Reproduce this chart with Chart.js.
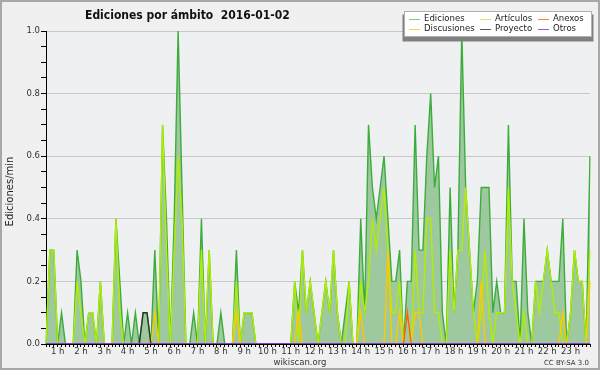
<!DOCTYPE html>
<html>
<head>
<meta charset="utf-8">
<script src="https://cdn.jsdelivr.net/npm/chart.js@4.4.0/dist/chart.umd.min.js"></script>
<style>
  html, body { margin: 0; padding: 0; background: #f0f0f0; }
  canvas { display: block; }
</style>
</head>
<body>
<canvas id="chart" width="600" height="370"></canvas>
<script>
// ── Data: 10-minute slots, 00:30 → 23:50 ─────────────────────────────────────
const times = [];
for (let m = 30; m <= 23 * 60 + 50; m += 10) {
  times.push(String(Math.floor(m / 60)).padStart(2, '0') + ':' + String(m % 60).padStart(2, '0'));
}

const ediciones = [
  0, .3, .3, 0, .1, 0, 0, 0, .3, .2, 0, .1, .1, 0, .2, 0, 0, 0, .4, .2,
  0, .1, 0, .1, 0, .1, .1, 0, .3, 0, .7, .4, 0, .4, 1, .5, 0, 0, .1, 0,
  .4, 0, .3, 0, 0, .1, 0, 0, 0, .3, 0, .1, .1, .1, 0, 0, 0, 0, 0, 0,
  0, 0, 0, 0, .2, .1, .3, .1, .2, .1, 0, .1, .2, .1, .3, .1, 0, .1, .2, 0,
  0, .4, .1, .7, .5, .4, .5, .6, .4, .2, .2, .3, 0, .2, .2, .7, .3, .3, .6, .8,
  .5, .6, .1, 0, .5, .1, .3, 1, .5, .3, .1, .2, .5, .5, .5, .1, .2, .1, .1, .7,
  .2, .2, 0, .4, .1, 0, .2, .2, .2, .3, .2, .2, .2, .4, 0, .1, .3, .2, .2, 0,
  .6
];
const articulos = [
  0, .3, .3, 0, 0, 0, 0, 0, .2, .1, 0, .1, .1, 0, .2, 0, 0, 0, .4, .1,
  0, 0, 0, 0, 0, 0, 0, 0, 0, 0, .7, .3, 0, .3, .6, .4, 0, 0, 0, 0,
  .3, 0, .3, 0, 0, 0, 0, 0, 0, .2, 0, .1, .1, .1, 0, 0, 0, 0, 0, 0,
  0, 0, 0, 0, .2, 0, .3, .1, .2, .1, 0, .1, .2, .1, .3, .1, 0, 0, .2, 0,
  0, .2, .1, .2, .4, .3, .4, .5, .3, .1, .1, .2, 0, .1, 0, .3, .1, .1, .4, .4,
  .1, .1, 0, 0, .3, .1, .3, .3, .5, .3, .1, 0, .1, .3, .1, 0, .1, .1, .1, .5,
  .2, .1, 0, .1, 0, 0, .2, .1, .2, .3, .2, .1, .1, 0, 0, .1, .3, .2, .2, 0,
  .3
];
const discusiones = [
  0, 0, 0, 0, 0, 0, 0, 0, 0, 0, 0, 0, 0, 0, 0, 0, 0, 0, 0, 0,
  0, 0, 0, 0, 0, 0, 0, 0, .1, 0, 0, 0, 0, 0, 0, 0, 0, 0, 0, 0,
  0, 0, 0, 0, 0, 0, 0, 0, 0, .1, 0, 0, 0, 0, 0, 0, 0, 0, 0, 0,
  0, 0, 0, 0, 0, .1, 0, 0, 0, 0, 0, 0, 0, 0, 0, 0, 0, 0, 0, 0,
  0, .1, 0, 0, 0, 0, 0, 0, .3, 0, 0, .1, 0, 0, 0, .1, .1, 0, 0, 0,
  0, 0, 0, 0, 0, 0, 0, 0, 0, 0, 0, 0, .2, 0, 0, 0, 0, 0, 0, 0,
  0, 0, 0, 0, 0, 0, 0, 0, 0, 0, 0, 0, 0, .1, 0, 0, 0, 0, 0, 0,
  .2
];
const anexos = [
  0, 0, 0, 0, 0, 0, 0, 0, 0, 0, 0, 0, 0, 0, 0, 0, 0, 0, 0, 0,
  0, 0, 0, 0, 0, 0, 0, 0, 0, 0, 0, 0, 0, 0, 0, 0, 0, 0, 0, 0,
  0, 0, 0, 0, 0, 0, 0, 0, 0, 0, 0, 0, 0, 0, 0, 0, 0, 0, 0, 0,
  0, 0, 0, 0, 0, 0, 0, 0, 0, 0, 0, 0, 0, 0, 0, 0, 0, 0, 0, 0,
  0, 0, 0, 0, 0, 0, 0, 0, 0, 0, 0, 0, 0, .1, 0, 0, 0, 0, 0, 0,
  0, 0, 0, 0, 0, 0, 0, 0, 0, 0, 0, 0, 0, 0, 0, 0, 0, 0, 0, 0,
  0, 0, 0, 0, 0, 0, 0, 0, 0, 0, 0, 0, 0, 0, 0, 0, 0, 0, 0, 0,
  0
];
const proyecto = [
  0, 0, 0, 0, 0, 0, 0, 0, 0, 0, 0, 0, 0, 0, 0, 0, 0, 0, 0, 0,
  0, 0, 0, 0, 0, .1, .1, 0, 0, 0, 0, 0, 0, 0, 0, 0, 0, 0, 0, 0,
  0, 0, 0, 0, 0, 0, 0, 0, 0, 0, 0, 0, 0, 0, 0, 0, 0, 0, 0, 0,
  0, 0, 0, 0, 0, 0, 0, 0, 0, 0, 0, 0, 0, 0, 0, 0, 0, 0, 0, 0,
  0, 0, 0, 0, 0, 0, 0, 0, 0, 0, 0, 0, 0, 0, 0, 0, 0, 0, 0, 0,
  0, 0, 0, 0, 0, 0, 0, 0, 0, 0, 0, 0, 0, 0, 0, 0, 0, 0, 0, 0,
  0, 0, 0, 0, 0, 0, 0, 0, 0, 0, 0, 0, 0, 0, 0, 0, 0, 0, 0, 0,
  0
];
const otros = new Array(times.length).fill(0);

const yTicks = [0, 0.2, 0.4, 0.6, 0.8, 1.0];

// ── Decorations: background, title, legend, footer ────────────────────────────
const FONT = '"DejaVu Sans", sans-serif';
const decor = {
  id: 'decor',
  beforeDraw(chart) {
    const { ctx, chartArea: a, width, height } = chart;
    ctx.save();
    ctx.fillStyle = '#f0f0f0';
    ctx.fillRect(0, 0, width, height);
    ctx.fillStyle = '#eef0f2';
    ctx.fillRect(a.left, a.top, a.right - a.left, a.bottom - a.top);
    ctx.restore();
  },
  afterDraw(chart) {
    const { ctx, chartArea: a, width, height } = chart;
    ctx.save();
    // frame
    ctx.strokeStyle = '#a8a8a8';
    ctx.lineWidth = 2;
    ctx.strokeRect(1, 1, width - 2, height - 2);

    // title
    ctx.fillStyle = '#111';
    ctx.font = 'bold 12px "DejaVu Sans Condensed", ' + FONT;
    ctx.textBaseline = 'alphabetic';
    ctx.fillText('Ediciones por ámbito  2016-01-02', 85, 18.5);

    // y title
    ctx.save();
    ctx.translate(13, (a.top + a.bottom) / 2 + 4);
    ctx.rotate(-Math.PI / 2);
    ctx.textAlign = 'center';
    ctx.font = '10px ' + FONT;
    ctx.fillStyle = '#222';
    ctx.fillText('Ediciones/min', 0, 0);
    ctx.restore();

    // legend
    const bx = 404.5, by = 11.5, bw = 187, bh = 25;
    ctx.fillStyle = '#808080';
    ctx.fillRect(bx - 2, by + 3, bw + 4, bh + 2);
    ctx.fillStyle = '#ffffff';
    ctx.fillRect(bx, by, bw, bh);
    ctx.strokeStyle = '#b0b0b0';
    ctx.lineWidth = 1;
    ctx.strokeRect(bx, by, bw, bh);
    const cols = [409, 480, 538];
    const rows = [19, 29];
    ctx.font = '9.5px "DejaVu Sans Condensed", ' + FONT;
    ctx.textBaseline = 'middle';
    chart.data.datasets.forEach((ds, i) => {
      const cx = cols[i % 3], cy = rows[Math.floor(i / 3)];
      ctx.strokeStyle = ds.legendColor || ds.borderColor;
      ctx.lineWidth = 1;
      ctx.beginPath();
      ctx.moveTo(cx, cy + 0.5);
      ctx.lineTo(cx + 11, cy + 0.5);
      ctx.stroke();
      ctx.fillStyle = '#222';
      ctx.fillText(ds.label, cx + 15, cy);
    });

    // footer
    ctx.textBaseline = 'alphabetic';
    ctx.fillStyle = '#333';
    ctx.font = '8.5px ' + FONT;
    ctx.textAlign = 'center';
    ctx.fillText('wikiscan.org', 300, 365);
    ctx.font = '7px ' + FONT;
    ctx.textAlign = 'right';
    ctx.fillText('CC BY-SA 3.0', 589, 365);
    ctx.restore();
  }
};

// ── Chart ─────────────────────────────────────────────────────────────────────
const ctx = document.getElementById('chart').getContext('2d');
new Chart(ctx, {
  type: 'line',
  data: {
    labels: times,
    datasets: [
      { label: 'Ediciones',   data: ediciones,   borderColor: '#3cac3c', legendColor: '#7ccc7c', backgroundColor: '#9ec99e', fill: 'origin', order: 6 },
      { label: 'Artículos',   data: articulos,   borderColor: '#b2ee00', legendColor: '#c8f060', fill: false, order: 5 },
      { label: 'Anexos',      data: anexos,      borderColor: '#ff5a1e', legendColor: '#f88050', fill: false, order: 3 },
      { label: 'Discusiones', data: discusiones, borderColor: '#ffc800', legendColor: '#ffd050', fill: false, order: 4 },
      { label: 'Proyecto',    data: proyecto,    borderColor: '#333333', legendColor: '#555555', fill: false, order: 2 },
      { label: 'Otros',       data: otros,       borderColor: '#9933ff', legendColor: '#9955ee', fill: false, order: 1 },
    ]
  },
  options: {
    responsive: false,
    animation: false,
    layout: { padding: { top: 31, right: 10, left: 0, bottom: 0 } },
    elements: {
      point: { radius: 0 },
      line: { borderWidth: 1.4, tension: 0 }
    },
    plugins: {
      legend: { display: false },
      tooltip: { enabled: false },
      filler: { drawTime: 'beforeDatasetsDraw' }
    },
    scales: {
      x: {
        type: 'category',
        offset: false,
        grid: { drawOnChartArea: false, tickLength: 3, color: '#000', tickColor: '#000' },
        border: { color: '#000', width: 1 },
        ticks: {
          autoSkip: false, maxRotation: 0, padding: 0,
          color: '#333', font: { family: FONT, size: 8.5 },
          callback: (v, i) => times[i].endsWith(':00') ? parseInt(times[i], 10) + ' h' : ''
        },
        afterFit(scale) { scale.height = 26; }
      },
      y: {
        min: 0, max: 1,
        ticks: {
          stepSize: 0.05, padding: 1,
          color: '#333', font: { family: FONT, size: 8.5 },
          callback: v => yTicks.some(t => Math.abs(t - v) < 1e-6) ? v.toFixed(1) : ''
        },
        grid: {
          tickLength: 5, tickColor: '#000',
          color: c => (c.tick && yTicks.some(t => t > 0 && Math.abs(t - c.tick.value) < 1e-6)) ? '#c8c8c8' : 'rgba(0,0,0,0)'
        },
        border: { color: '#000', width: 1 },
        afterFit(scale) { scale.width = 46; }
      }
    }
  },
  plugins: [decor]
});
</script>
</body>
</html>
